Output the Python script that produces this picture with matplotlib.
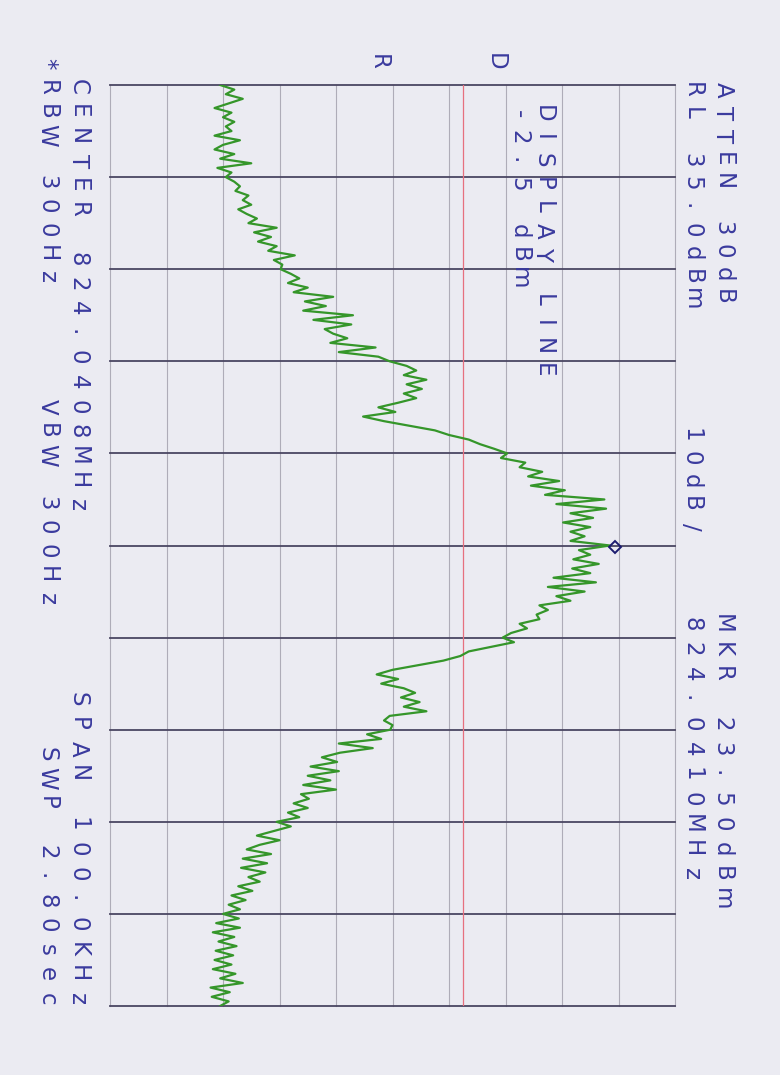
import numpy as np
import matplotlib
matplotlib.use("Agg")
import matplotlib.pyplot as plt
from matplotlib.transforms import offset_copy

# analyzer settings
CENTER_MHZ = 824.0408
SPAN_KHZ = 100.0
REF_LEVEL = 35.0
DB_PER_DIV = 10.0
DISPLAY_LINE = -2.5
MKR_MHZ = 824.0410
MKR_DBM = 23.5

# trace, dBm, 0.5 kHz per point from left of span
trace_dbm = [
    -45.5, -43.0, -44.5, -41.5, -44.0, -46.5, -43.5, -45.0, -43.0, -44.5,
    -43.5, -46.5, -42.0, -45.0, -46.5, -43.0, -45.5, -40.0, -46.0, -43.5,
    -44.5, -43.0, -42.0, -42.8, -40.5, -41.5, -40.0, -42.3, -40.8, -39.0,
    -40.5, -35.5, -39.5, -36.5, -38.8, -35.5, -37.0, -32.3, -36.0, -34.5,
    -34.8, -33.0, -31.5, -33.5, -30.0, -32.5, -25.5, -30.5, -26.8, -30.8,
    -22.0, -29.0, -22.3, -27.0, -25.5, -23.0, -26.0, -18.0, -24.5, -17.5,
    -15.5, -12.5, -10.8, -13.0, -9.0, -12.5, -9.8, -13.0, -10.8, -14.0,
    -17.5, -14.5, -20.2, -16.5, -12.0, -7.5, -5.0, -1.5, 0.5, 3.0,
    5.3, 4.2, 8.5, 7.5, 11.5, 9.0, 14.5, 9.5, 15.5, 12.0,
    22.5, 14.0, 22.8, 16.5, 20.5, 15.2, 20.0, 16.5, 19.0, 16.5,
    23.5, 18.0, 20.0, 17.0, 21.5, 16.8, 20.0, 13.5, 21.0, 12.5,
    19.0, 14.0, 16.5, 11.0, 12.5, 10.5, 11.0, 7.5, 8.8, 6.0,
    4.5, 6.5, 2.5, -1.5, -3.0, -6.0, -10.5, -15.0, -17.8, -14.0,
    -17.0, -13.0, -11.0, -13.5, -10.2, -13.0, -9.0, -15.5, -16.5, -15.0,
    -15.4, -19.5, -17.0, -24.5, -18.5, -24.3, -27.5, -24.8, -29.5, -24.5,
    -30.0, -26.0, -30.8, -25.0, -31.2, -29.8, -32.5, -30.0, -33.5, -31.5,
    -35.5, -33.0, -36.0, -39.0, -35.0, -38.5, -40.8, -36.5, -41.5, -37.2,
    -41.8, -37.5, -40.5, -38.5, -42.3, -39.8, -43.5, -41.0, -44.0, -42.0,
    -45.0, -42.2, -46.2, -42.0, -46.8, -43.0, -45.8, -42.6, -46.3, -43.2,
    -46.5, -43.5, -46.8, -42.8, -45.5, -41.5, -47.2, -43.8, -47.0, -44.0,
    -45.5,
]

# annotation text: (string, x px, top y px, pitch px)
labels = [
    ("ATTEN 30dB", 723, 83, 23.0),
    ("RL 35.0dBm", 692, 83, 23.3),
    ("10dB/", 691, 428, 23.0),
    ("MKR 23.50dBm", 722, 617, 25.0),
    ("824.0410MHz", 692, 617, 25.0),
    ("DISPLAY LINE", 543, 107, 23.3),
    ("-2.5 dBm", 519, 107, 23.5),
    ("D", 495, 55, 24.0),
    ("R", 378, 55, 24.0),
    ("CENTER 824.0408MHz", 78, 80, 24.6),
    ("*RBW 300Hz", 47, 57, 23.7),
    ("VBW 300Hz", 47, 400, 24.0),
    ("SPAN 100.0KHz", 78, 692, 25.0),
    ("SWP 2.80sec", 47, 747, 24.5),
]

W, H = 780, 1075
BG = "#ebebf2"
TXT = "#3a3a9e"
GREEN = "#35962a"

freq = np.linspace(-SPAN_KHZ / 2, SPAN_KHZ / 2, len(trace_dbm))
bottom = REF_LEVEL - 10 * DB_PER_DIV

fig = plt.figure(figsize=(W / 100, H / 100), dpi=100)
fig.patch.set_facecolor(BG)
ax = fig.add_axes([110 / W, 1 - 1006 / H, (675 - 110) / W, (1006 - 85) / H])
ax.set_facecolor(BG)
ax.set_xlim(bottom, REF_LEVEL)
ax.set_ylim(SPAN_KHZ / 2, -SPAN_KHZ / 2)
ax.axis("off")

# graticule: amplitude divisions light, frequency divisions dark
for lv in np.arange(bottom, REF_LEVEL + 1, DB_PER_DIV):
    ax.axvline(lv, color="#aeacb8", lw=0.8, zorder=1, clip_on=False)
for fk in np.arange(-SPAN_KHZ / 2, SPAN_KHZ / 2 + 1, SPAN_KHZ / 10):
    ax.axhline(fk, color="#4a4662", lw=1.3, zorder=2, clip_on=False)
ax.axvline(DISPLAY_LINE, color="#e6707f", lw=0.9, zorder=2)

ax.plot(trace_dbm, freq, color=GREEN, lw=1.6, zorder=3)

mkr_tr = offset_copy(ax.transData, fig=fig, x=5, y=0, units="dots")
ax.plot(MKR_DBM, (MKR_MHZ - CENTER_MHZ) * 1000, marker="D", ms=6.5,
        mfc="none", mec="#1c1c70", mew=1.4, transform=mkr_tr, zorder=4)


def vtext(s, x, y0, pitch):
    # plotter style: one char per cell, read top to bottom
    for i, ch in enumerate(s):
        if ch == " ":
            continue
        fig.text(x / W, 1 - (y0 + 7 + pitch * i) / H, ch, rotation=-90,
                 ha="center", va="center", fontsize=16.5, color=TXT,
                 family="DejaVu Sans")


for s, x, y0, p in labels:
    vtext(s, x, y0, p)

fig.savefig("out.png", dpi=100, facecolor=BG)
